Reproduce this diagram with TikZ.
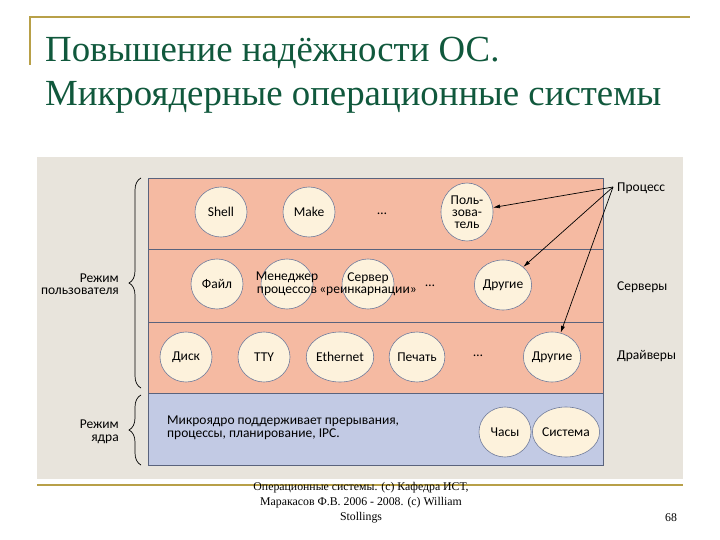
\documentclass[tikz,border=0pt]{standalone}
\usepackage{fontspec}
\setmainfont{Liberation Serif}
\newfontfamily\diagfont{Carlito}
\usetikzlibrary{shapes.geometric,decorations.pathreplacing,arrows.meta}

\definecolor{gold}{RGB}{184,160,72}
\definecolor{titlegreen}{RGB}{16,88,60}
\definecolor{backdrop}{RGB}{232,228,220}
\definecolor{salmon}{RGB}{245,186,162}
\definecolor{kernelblue}{RGB}{194,202,228}
\definecolor{cream}{RGB}{253,242,220}
\definecolor{rim}{RGB}{112,124,156}

\begin{document}
\begin{tikzpicture}[x=1pt,y=-1pt,
	title/.style={font=\fontsize{36.8}{40}\selectfont, text=titlegreen, inner sep=0pt},
	layer/.style={draw=rim!80!black, line width=0.5pt},
	proc/.style={ellipse, draw=rim, fill=cream, line width=0.6pt, minimum width=52pt, minimum height=50pt, inner sep=0pt, font=\diagfont\fontsize{13.5}{12}\selectfont, align=center},
	lbl/.style={font=\diagfont\fontsize{13.5}{12.5}\selectfont, inner sep=0pt, align=center},
	ptr/.style={-{Latex[length=7pt,width=4pt]}, line width=0.7pt},
	curly/.style={decorate, decoration={brace, amplitude=12pt}, line width=0.7pt}]
		
		\useasboundingbox (0,0) rectangle (720,540);
		
		%Header
		\draw[gold, line width=1.5pt] (30,65) -- (30,17) -- (690,17);
		\node[title, anchor=base west] (t1) at (45,62) {Повышение надёжности ОС.};
		\node[title, anchor=base west] (t2) at (45,106) {Микроядерные операционные системы};
		
		%Backdrop and layers
		\fill[backdrop] (37,157) rectangle (683,479);
		\draw[layer, fill=salmon] (148,178) rectangle (603,249);
		\draw[layer, fill=salmon] (148,249) rectangle (603,322);
		\draw[layer, fill=salmon] (148,322) rectangle (603,393);
		\draw[layer, fill=kernelblue] (148,393) rectangle (603,465);
		
		%User processes
		\node[proc] (shell) at (221,212) {Shell};
		\node[proc] (make) at (309,212) {Make};
		\node[lbl] (udots) at (382,214) {\dots};
		\node[proc, minimum height=58pt] (user) at (467,212) {Поль-\\зова-\\тель};
		
		%Servers
		\node[proc] (file) at (217,284) {Файл};
		\node[proc] (pmgr) at (287,284) {};
		\node[proc] (reinc) at (368,284) {};
		\node[lbl] at (287,284) {Менеджер\\процессов};
		\node[lbl] at (368,284) {Сервер\\«реинкарнации»};
		\node[lbl] (sdots) at (430,286) {\dots};
		\node[proc] (srvother) at (503,285) {Другие};
		
		%Drivers
		\node[proc] (disk) at (186,357) {Диск};
		\node[proc] (tty) at (264,357) {TTY};
		\node[proc] (eth) at (340,357) {Ethernet};
		\node[proc] (print) at (417,357) {Печать};
		\node[lbl] (ddots) at (478,356) {\dots};
		\node[proc] (drvother) at (552,357) {Другие};
		
		%Kernel
		\node[lbl, anchor=west, align=left] (mk) at (167,428) {Микроядро поддерживает прерывания,\\процессы, планирование, IPC.};
		\node[proc] (clock) at (505,432) {Часы};
		\node[proc] (sysc) at (566,432) {Система};
		
		%Right labels and arrows
		\node[lbl, anchor=west] (proclbl) at (617,188) {Процесс};
		\node[lbl, anchor=west] (srvlbl) at (617,287) {Серверы};
		\node[lbl, anchor=west] (drvlbl) at (617,356) {Драйверы};
		\coordinate (procpt) at (613,187);
		\draw[ptr] (procpt) -- (user);
		\draw[ptr] (procpt) -- (srvother);
		\draw[ptr] (procpt) -- (drvother);
		
		%Modes
		\draw[curly] (141,388) -- (141,178);
		\draw[curly] (141,465) -- (141,395);
		\node[lbl, anchor=east, align=right] (umode) at (119,284) {Режим\\пользователя};
		\node[lbl, anchor=east, align=right] (kmode) at (119,432) {Режим\\ядра};
		
		%Footer
		\draw[gold, line width=1.5pt] (37,485) -- (683,485);
		\node[font=\fontsize{11.8}{15}\selectfont, align=center, inner sep=0pt] (foot) at (361,503) {Операционные системы. (c) Кафедра ИСТ,\\Маракасов Ф.В. 2006 - 2008. (c) William\\Stollings};
		\node[font=\fontsize{11.8}{15}\selectfont, inner sep=0pt] (page) at (671,518) {68};
	\end{tikzpicture}
\end{document}
